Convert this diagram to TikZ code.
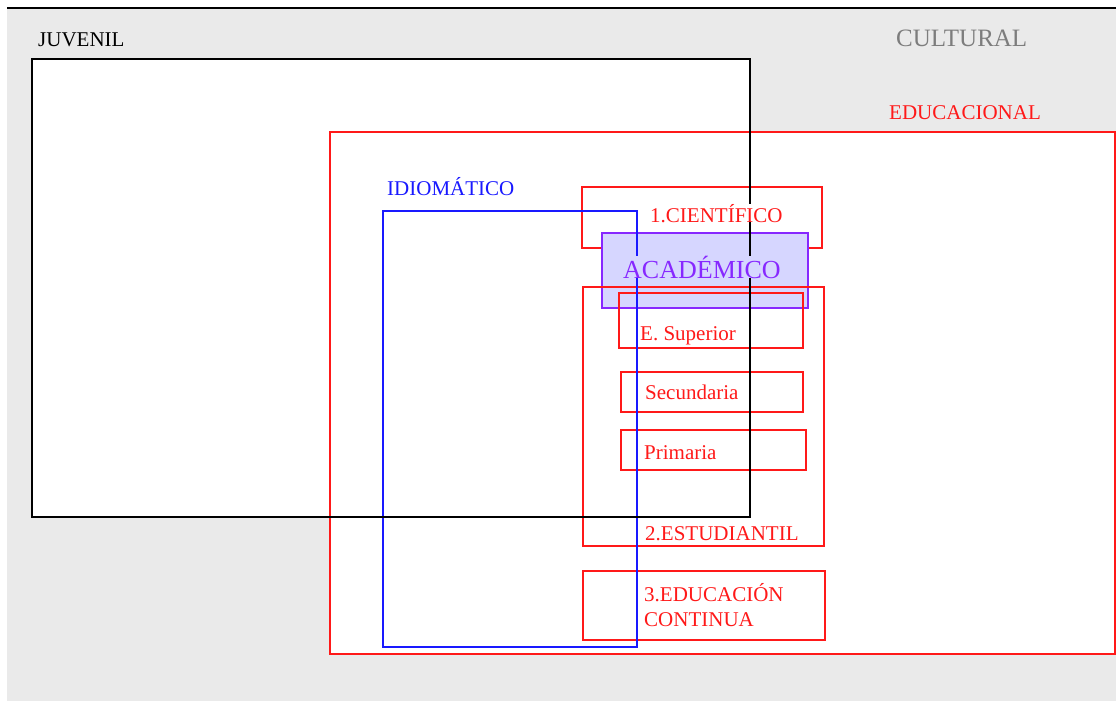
\documentclass[tikz,border=0pt]{standalone}
\usepackage{fontspec}
\setmainfont{Liberation Serif}
\usetikzlibrary{positioning}
\definecolor{bggray}{RGB}{234,234,234}
\definecolor{areared}{RGB}{255,25,25}
\definecolor{areablue}{RGB}{25,25,255}
\definecolor{acadpurple}{RGB}{135,40,255}
\definecolor{acadfill}{RGB}{214,214,255}
\definecolor{labelgray}{RGB}{125,125,125}

\begin{document}
\begin{tikzpicture}[x=1pt,y=-1pt,
                area/.style={rectangle,draw,line width=1.5pt,inner sep=0pt,
                             outer sep=0pt,anchor=north west},
                lbl/.style={inner sep=1pt,anchor=base west,
                            font=\fontsize{21}{25}\selectfont}]
                \useasboundingbox (0,0) rectangle (1116,701);
                \fill[bggray] (7,8) rectangle (1116,701);
                \draw[line width=1.5pt] (7,8) -- (1116,8);
                % big areas
                \node[area,fill=white,minimum width=718,minimum height=458]
                           (juvenil) at (32,59)   {};
                \node[area,fill=white,draw=areared,minimum width=785,minimum height=522]
                           (educ)    at (330,132) {};
                % educational sub-areas
                \node[area,draw=areared,minimum width=240,minimum height=61]
                           (cient)   at (582,187) {};
                \node[area,draw=acadpurple,fill=acadfill,minimum width=206,minimum height=75]
                           (acad)    at (602,233) {};
                \node[area,draw=areared,minimum width=241,minimum height=259]
                           (estud)   at (583,287) {};
                \node[area,draw=areared,minimum width=184,minimum height=55]
                           (sup)     at (619,293) {};
                \node[area,draw=areared,minimum width=182,minimum height=40]
                           (sec)     at (621,372) {};
                \node[area,draw=areared,minimum width=185,minimum height=40]
                           (prim)    at (621,430) {};
                \node[area,draw=areared,minimum width=242,minimum height=69]
                           (cont)    at (583,571) {};
                \node[area,draw=areablue,minimum width=254,minimum height=436]
                           (idiom)   at (383,211) {};
                \draw[line width=1.5pt] (juvenil.north west) rectangle (juvenil.south east);
                % labels
                \node[lbl] (tjuv)  at (37,47)  {JUVENIL};
                \node[lbl,text=labelgray,font=\fontsize{25}{28}\selectfont]
                           (tcult) at (895,47) {CULTURAL};
                \node[lbl,text=areared]  (teduc)  at (888,119) {EDUCACIONAL};
                \node[lbl,text=areablue] (tidiom) at (386,195) {IDIOMÁTICO};
                \node[lbl,text=areared,fill=white,inner sep=0pt]
                           (tcient) at (650,222) {1.CIENTÍFICO};
                \node[lbl,text=acadpurple,fill=acadfill,inner sep=0pt,
                      font=\fontsize{26}{30}\selectfont]
                           (tacad)  at (623,278) {ACADÉMICO};
                \node[lbl,text=areared]  (tsup)   at (639,340) {E. Superior};
                \node[lbl,text=areared]  (tsec)   at (644,399) {Secundaria};
                \node[lbl,text=areared]  (tprim)  at (643,459) {Primaria};
                \node[lbl,text=areared]  (testud) at (644,540) {2.ESTUDIANTIL};
                \node[lbl,text=areared,align=left,anchor=north west]
                           (tcont)  at (643,582) {3.EDUCACIÓN\\CONTINUA};
            \end{tikzpicture}
\end{document}
